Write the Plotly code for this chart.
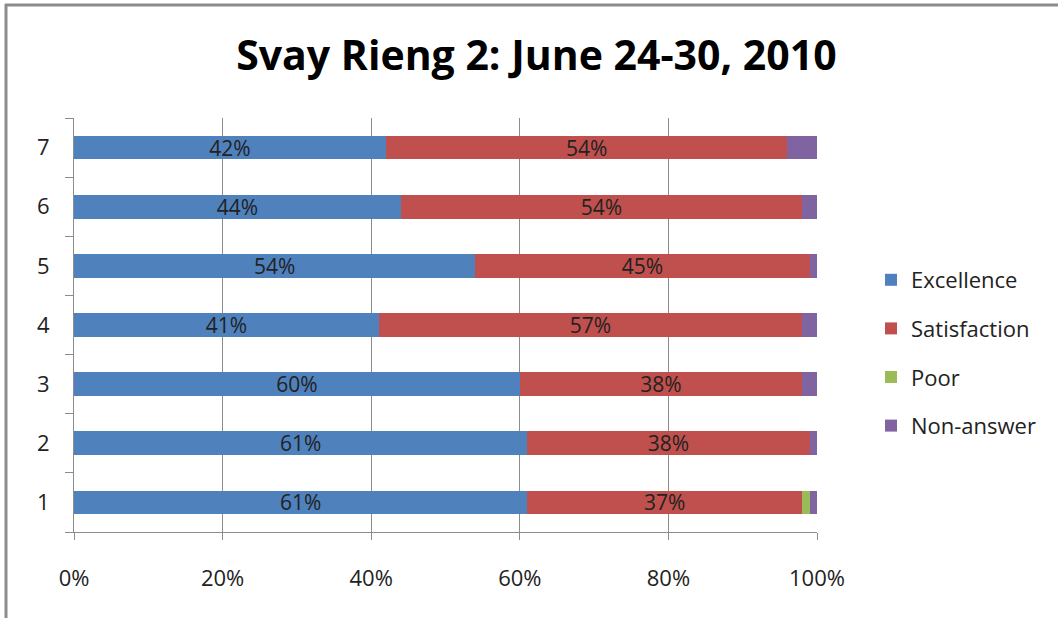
import plotly.graph_objects as go

# bar categories (bottom to top) and series shares in percent
categories = ["1", "2", "3", "4", "5", "6", "7"]
excellence = [61, 61, 60, 41, 54, 44, 42]
satisfaction = [37, 38, 38, 57, 45, 54, 54]
poor = [1, 0, 0, 0, 0, 0, 0]
non_answer = [1, 1, 2, 2, 1, 2, 4]

series = [
    ("Excellence", excellence, "#4F81BD", True),
    ("Satisfaction", satisfaction, "#C0504D", True),
    ("Poor", poor, "#9BBB59", False),
    ("Non-answer", non_answer, "#8064A2", False),
]

font = "Open Sans"
W, H = 1058, 618
L, R, T, B = 74, 241, 118, 86

fig = go.Figure()
for name, vals, color, labelled in series:
    fig.add_trace(go.Bar(
        y=categories, x=vals, name=name, orientation="h",
        marker=dict(color=color, line=dict(width=0)),
        text=[f"{v}%" for v in vals] if labelled else None,
        textposition="inside" if labelled else "none",
        insidetextanchor="middle", constraintext="none",
        textfont=dict(family=font, size=21, color="#222222"),
        legendgroup=name,
        hoverinfo="x+name",
    ))

pw, ph = W - L - R, H - T - B
def px_x(v):
    return (v - L) / pw
def px_y(v):
    return (H - B - v) / ph

fig.update_layout(
    width=W, height=H,
    margin=dict(l=L, r=R, t=T, b=B),
    barmode="stack", bargap=0.6,
    plot_bgcolor="white", paper_bgcolor="white",
    font=dict(family=font, size=21, color="#222222"),
    title=dict(text="<b>Svay Rieng 2: June 24-30, 2010</b>", x=0.507, xanchor="center",
               y=0.91, yanchor="middle", font=dict(family=font, size=41, color="black")),
    xaxis=dict(range=[0, 100], tickvals=[0, 20, 40, 60, 80, 100],
               ticktext=["0%", "20%", "40%", "60%", "80%", "100%"],
               showgrid=True, gridcolor="#8c8c8c", gridwidth=1,
               showline=True, linecolor="#8c8c8c", linewidth=1,
               ticks="outside", ticklen=7, tickcolor="#8c8c8c",
               zeroline=False, tickfont=dict(size=22), ticklabelstandoff=20,
               fixedrange=True),
    yaxis=dict(showline=True, linecolor="#8c8c8c", linewidth=1,
               ticks="outside", ticklen=8, tickcolor="#8c8c8c",
               tickson="boundaries", showgrid=False,
               tickfont=dict(size=22), ticklabelstandoff=19, fixedrange=True),
    legend=dict(x=px_x(871), xanchor="left", y=px_y(259), yanchor="top",
                traceorder="grouped", tracegroupgap=17,
                font=dict(size=22), itemwidth=30),
    shapes=[
        dict(type="line", xref="paper", yref="paper", x0=px_x(5), x1=px_x(1060),
             y0=px_y(5), y1=px_y(5), line=dict(color="#8c8c8c", width=3)),
        dict(type="line", xref="paper", yref="paper", x0=px_x(6), x1=px_x(6),
             y0=px_y(4), y1=px_y(620), line=dict(color="#8c8c8c", width=3)),
    ],
)

fig.write_html("out.html", config={"displayModeBar": False},
               post_script="document.body.style.margin='0';")
